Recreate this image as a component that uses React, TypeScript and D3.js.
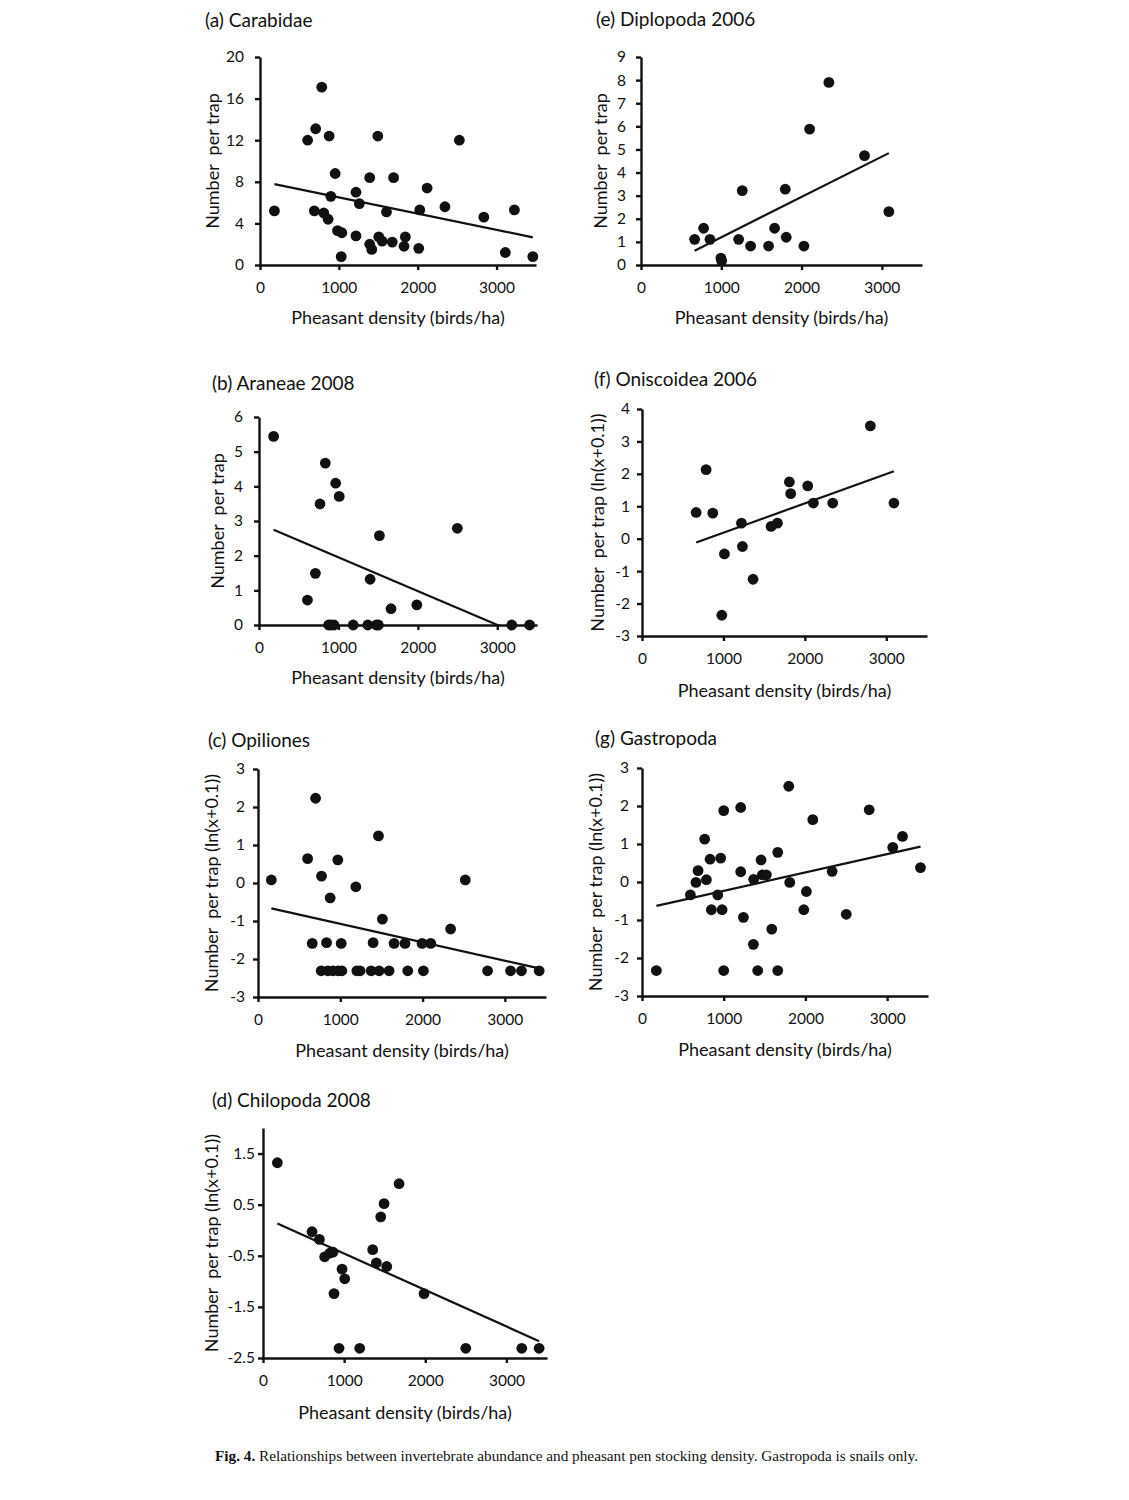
import { useEffect, useRef } from 'react';
import * as d3 from 'd3';

const W = 1129;
const H = 1500;

// shared x axis
const xDomain = [0, 3500];
const xTicks = [0, 1000, 2000, 3000];

// (a) Carabidae
const carabidaeX = [183, 604, 706, 783, 877, 689, 809, 864, 898, 953, 983, 1038, 1030, 1217, 1260, 1217, 1391, 1391, 1417, 1494, 1506, 1549, 1604, 1694, 1677, 1826, 1843, 2013, 2026, 2119, 2345, 2528, 2838, 3111, 3226, 3460];
const carabidaeY = [5.2, 12.0, 13.1, 17.1, 12.4, 5.2, 5.0, 4.4, 6.6, 8.8, 3.3, 3.1, 0.8, 7.0, 5.9, 2.8, 8.4, 2.0, 1.5, 12.4, 2.7, 2.3, 5.1, 8.4, 2.2, 1.8, 2.7, 1.6, 5.3, 7.4, 5.6, 12.0, 4.6, 1.2, 5.3, 0.8];
const carabidaeFit = [8.055, -0.001559];
const carabidaeTicks = [0, 4, 8, 12, 16, 20];

// (e) Diplopoda 2006
const diplopodaX = [668, 780, 859, 995, 1005, 1261, 1216, 1365, 1589, 1664, 1797, 1809, 2029, 2100, 2340, 2784, 3087];
const diplopodaY = [1.11, 1.59, 1.11, 0.3, 0.18, 3.22, 1.11, 0.82, 0.82, 1.59, 3.28, 1.2, 0.82, 5.88, 7.9, 4.73, 2.31];
const diplopodaFit = [-0.546, 0.001745];
const diplopodaTicks = [0, 1, 2, 3, 4, 5, 6, 7, 8, 9];

// (b) Araneae 2008
const araneaeX = [184, 610, 710, 768, 835, 965, 1010, 877, 906, 944, 1186, 1370, 1478, 1503, 1399, 1516, 1662, 1987, 2497, 3182, 3407];
const araneaeY = [5.44, 0.72, 1.49, 3.49, 4.67, 4.09, 3.71, 0, 0, 0, 0, 0, 0, 0, 1.32, 2.58, 0.47, 0.58, 2.79, 0, 0];
const araneaeFit = [2.93, -0.000976];
const araneaeTicks = [0, 1, 2, 3, 4, 5, 6];

// (f) Oniscoidea 2006
const oniscoideaX = [665, 787, 869, 1012, 980, 1221, 1233, 1364, 1585, 1663, 1810, 1826, 2035, 2105, 2342, 2804, 3094];
const oniscoideaY = [0.81, 2.13, 0.79, -0.47, -2.36, 0.48, -0.24, -1.25, 0.38, 0.48, 1.75, 1.39, 1.63, 1.1, 1.1, 3.48, 1.1];
const oniscoideaFit = [-0.722, 0.000906];
const oniscoideaTicks = [-3, -2, -1, 0, 1, 2, 3, 4];

// (c) Opiliones
const opilionesX = [162, 603, 700, 772, 877, 970, 1189, 1464, 1512, 659, 833, 1011, 1399, 1654, 1787, 1994, 2099, 2341, 2519,
  768, 849, 910, 975, 1019, 1201, 1241, 1375, 1472, 1593, 1820, 2010, 2790, 3069, 3202, 3417];
const opilionesY = [0.08, 0.64, 2.23, 0.18, -0.39, 0.61, -0.1, 1.24, -0.95, -1.59, -1.57, -1.59, -1.57, -1.59, -1.59, -1.59, -1.59, -1.21, 0.08,
  -2.31, -2.31, -2.31, -2.31, -2.31, -2.31, -2.31, -2.31, -2.31, -2.31, -2.31, -2.31, -2.31, -2.31, -2.31, -2.31];
const opilionesFit = [-0.591, -0.000485];
const opilionesTicks = [-3, -2, -1, 0, 1, 2, 3];

// (g) Gastropoda
const gastropodaX = [176, 592, 661, 686, 767, 788, 833, 849, 927, 963, 980, 1000, 1000, 1208, 1208, 1241, 1363, 1367, 1416, 1457, 1473, 1522, 1588, 1661, 1661, 1796, 1808, 1980, 2012, 2090, 2327, 2500, 2780, 3069, 3188, 3408];
const gastropodaY = [-2.33, -0.34, -0.01, 0.3, 1.13, 0.06, 0.6, -0.73, -0.34, 0.63, -0.73, 1.88, -2.33, 1.96, 0.27, -0.93, -1.64, 0.07, -2.33, 0.58, 0.19, 0.19, -1.24, 0.78, -2.33, 2.52, -0.01, -0.73, -0.25, 1.64, 0.28, -0.85, 1.9, 0.91, 1.2, 0.38];
const gastropodaFit = [-0.715, 0.000483];
const gastropodaTicks = [-3, -2, -1, 0, 1, 2, 3];

// (d) Chilopoda 2008
const chilopodaX = [177, 604, 695, 760, 822, 863, 875, 974, 1007, 937, 1192, 1352, 1397, 1451, 1492, 1525, 1677, 1985, 2499, 3189, 3403];
const chilopodaY = [1.32, -0.03, -0.18, -0.52, -0.45, -0.43, -1.24, -0.76, -0.95, -2.31, -2.31, -0.38, -0.64, 0.26, 0.52, -0.71, 0.91, -1.24, -2.31, -2.31, -2.31];
const chilopodaFit = [0.256, -0.000713];
const chilopodaTicks = [-2.5, -1.5, -0.5, 0.5, 1.5];

const countLabel = 'Number  per trap';
const lnLabel = 'Number  per trap (ln(x+0.1))';
const xLabel = 'Pheasant density (birds/ha)';
const caption = 'Relationships between invertebrate abundance and pheasant pen stocking density. Gastropoda is snails only.';

const panels = [
  { title: '(a) Carabidae', xs: carabidaeX, ys: carabidaeY, fit: carabidaeFit, yDomain: [0, 20], yTicks: carabidaeTicks, yLabel: countLabel },
  { title: '(e) Diplopoda 2006', xs: diplopodaX, ys: diplopodaY, fit: diplopodaFit, yDomain: [0, 9], yTicks: diplopodaTicks, yLabel: countLabel },
  { title: '(b) Araneae 2008', xs: araneaeX, ys: araneaeY, fit: araneaeFit, yDomain: [0, 6], yTicks: araneaeTicks, yLabel: countLabel },
  { title: '(f) Oniscoidea 2006', xs: oniscoideaX, ys: oniscoideaY, fit: oniscoideaFit, yDomain: [-3, 4], yTicks: oniscoideaTicks, yLabel: lnLabel },
  { title: '(c) Opiliones', xs: opilionesX, ys: opilionesY, fit: opilionesFit, yDomain: [-3, 3], yTicks: opilionesTicks, yLabel: lnLabel },
  { title: '(g) Gastropoda', xs: gastropodaX, ys: gastropodaY, fit: gastropodaFit, yDomain: [-3, 3], yTicks: gastropodaTicks, yLabel: lnLabel },
  { title: '(d) Chilopoda 2008', xs: chilopodaX, ys: chilopodaY, fit: chilopodaFit, yDomain: [-2.5, 2], yTicks: chilopodaTicks, yLabel: lnLabel },
];

// page placement of each panel
const layouts = [
  { left: 260, right: 536, top: 57, bottom: 265, titleX: 205, titleY: 27, xLabelY: 324, yLabelX: 212, tickGap: 16 },
  { left: 641, right: 922, top: 57, bottom: 265, titleX: 596, titleY: 26, xLabelY: 324, yLabelX: 600, tickGap: 15 },
  { left: 259, right: 537, top: 417, bottom: 625, titleX: 212, titleY: 390, xLabelY: 684, yLabelX: 217, tickGap: 16 },
  { left: 642, right: 927, top: 409, bottom: 636, titleX: 594, titleY: 386, xLabelY: 697, yLabelX: 597, tickGap: 12 },
  { left: 258, right: 546, top: 769, bottom: 997, titleX: 208, titleY: 747, xLabelY: 1057, yLabelX: 211, tickGap: 13 },
  { left: 642, right: 928, top: 768, bottom: 996, titleX: 595, titleY: 745, xLabelY: 1056, yLabelX: 595, tickGap: 13 },
  { left: 263, right: 547, top: 1128, bottom: 1358, titleX: 212, titleY: 1107, xLabelY: 1419, yLabelX: 211, tickGap: 8 },
];

const FONT = 'Lato, "Open Sans", sans-serif';
const INK = '#111';

export default function App() {
  const svgRef = useRef<SVGSVGElement>(null);

  useEffect(() => {
    if (!svgRef.current) return;
    const svg = d3.select(svgRef.current);
    svg.selectAll('*').remove();

    svg.append('rect').attr('width', W).attr('height', H).attr('fill', '#fff');
    const defs = svg.append('defs');

    panels.forEach((p, i) => {
      const L = layouts[i];
      const x = d3.scaleLinear().domain(xDomain).range([L.left, L.right]);
      const y = d3.scaleLinear().domain(p.yDomain).range([L.bottom, L.top]);
      const g = svg.append('g');

      const clipId = `plot-clip-${i}`;
      defs.append('clipPath').attr('id', clipId)
        .append('rect')
        .attr('x', L.left).attr('y', L.top)
        .attr('width', L.right - L.left).attr('height', L.bottom - L.top);

      // title
      g.append('text')
        .attr('x', L.titleX).attr('y', L.titleY)
        .attr('font-family', FONT).attr('font-size', 19).attr('fill', INK)
        .text(p.title);

      // axes
      const xAxis = d3.axisBottom(x).tickValues(xTicks).tickSize(5).tickSizeOuter(0).tickPadding(12).tickFormat(d3.format('d'));
      const gx = g.append('g').attr('transform', `translate(0,${L.bottom})`).call(xAxis);

      const yAxis = d3.axisLeft(y).tickValues(p.yTicks).tickSize(5).tickSizeOuter(0).tickPadding(L.tickGap - 5).tickFormat((d) => String(d));
      const gy = g.append('g').attr('transform', `translate(${L.left},0)`).call(yAxis);

      [gx, gy].forEach((ax) => {
        ax.attr('font-family', FONT).attr('font-size', 15.5);
        ax.selectAll('path, line').attr('stroke', INK).attr('stroke-width', 2.4);
        ax.selectAll('text').attr('fill', INK);
      });

      // axis titles
      g.append('text')
        .attr('x', (L.left + L.right) / 2).attr('y', L.xLabelY)
        .attr('text-anchor', 'middle')
        .attr('font-family', FONT).attr('font-size', 18).attr('fill', INK)
        .text(xLabel);

      g.append('text')
        .attr('transform', `translate(${L.yLabelX},${(L.top + L.bottom) / 2}) rotate(-90)`)
        .attr('text-anchor', 'middle').attr('dominant-baseline', 'central')
        .attr('font-family', FONT).attr('font-size', 18).attr('fill', INK)
        .style('white-space', 'pre')
        .text(p.yLabel);

      // fitted line over the range of the data
      const [b0, b1] = p.fit;
      const xr = d3.extent(p.xs) as [number, number];
      const line = d3.line<number>().x((d) => x(d)).y((d) => y(b0 + b1 * d));
      g.append('path')
        .attr('d', line(xr))
        .attr('clip-path', `url(#${clipId})`)
        .attr('fill', 'none').attr('stroke', INK).attr('stroke-width', 2.2);

      // points
      g.append('g')
        .selectAll('circle')
        .data(p.xs.map((v, k) => [v, p.ys[k]]))
        .join('circle')
        .attr('cx', (d) => x(d[0]))
        .attr('cy', (d) => y(d[1]))
        .attr('r', 5.4)
        .attr('fill', INK);
    });

    // figure caption
    const cap = svg.append('text')
      .attr('x', 215).attr('y', 1461)
      .attr('font-family', '"Liberation Serif", "DejaVu Serif", serif')
      .attr('font-size', 14).attr('fill', INK)
      .attr('textLength', 703).attr('lengthAdjust', 'spacingAndGlyphs');
    cap.append('tspan').attr('font-weight', 'bold').text('Fig. 4. ');
    cap.append('tspan').text(caption);
  }, []);

  return (
    <svg
      ref={svgRef}
      width={W}
      height={H}
      style={{ position: 'absolute', left: 0, top: 0, display: 'block' }}
    />
  );
}
